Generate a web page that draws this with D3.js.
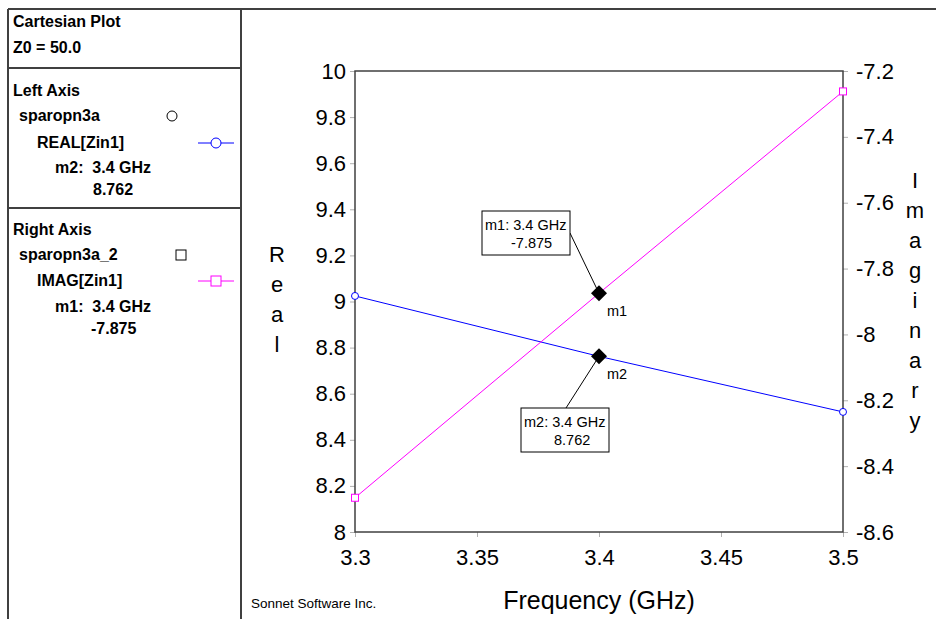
<!DOCTYPE html>
<html lang="en">
<head>
  <meta charset="UTF-8">
  <title>Cartesian Plot</title>
  <script src="https://d3js.org/d3.v7.min.js"></script>
  <style>
    body { margin: 0; background: white; }
    svg { display: block; }
    text { font-family: "Liberation Sans", Arial, sans-serif; fill: #000; }
    .legend text { font-weight: bold; font-size: 16px; }
    .tick line { stroke: #b0b0b0; }
    .frame { fill: none; stroke: #404040; stroke-width: 1.5px; }
    .border { stroke: #404040; stroke-width: 2px; }
  </style>
</head>
<body>
  <svg id="chart" width="936" height="619"></svg>
  <script>
    // data
    const freq = [3.3, 3.4, 3.5];
    const realZin = [9.024, 8.762, 8.521];
    const imagZin = [-8.496, -7.875, -7.262];
    const xTicks = [3.3, 3.35, 3.4, 3.45, 3.5];
    const leftTicks = [8, 8.2, 8.4, 8.6, 8.8, 9, 9.2, 9.4, 9.6, 9.8, 10];
    const rightTicks = [-8.6, -8.4, -8.2, -8, -7.8, -7.6, -7.4, -7.2];
    const markerNames = ["m1", "m2"];
    const markerFreq = [3.4, 3.4];
    const markerVals = [-7.875, 8.762];

    const width = 936, height = 619;
    const plot = { left: 355, right: 843, top: 71, bottom: 532 };
    const svg = d3.select("#chart");

    const x = d3.scaleLinear().domain([3.3, 3.5]).range([plot.left, plot.right]);
    const yL = d3.scaleLinear().domain([8, 10]).range([plot.bottom, plot.top]);
    const yR = d3.scaleLinear().domain([-8.6, -7.2]).range([plot.bottom, plot.top]);

    // outer borders
    svg.append("line").attr("class", "border").attr("x1", 8).attr("x2", width).attr("y1", 9).attr("y2", 9);
    svg.append("line").attr("class", "border").attr("x1", 8).attr("x2", 8).attr("y1", 9).attr("y2", height);
    svg.append("line").attr("class", "border").attr("x1", 241).attr("x2", 241).attr("y1", 9).attr("y2", height);
    svg.append("line").attr("class", "border").attr("x1", 8).attr("x2", 241).attr("y1", 68).attr("y2", 68);
    svg.append("line").attr("class", "border").attr("x1", 8).attr("x2", 241).attr("y1", 208).attr("y2", 208);

    // legend panel
    const lg = svg.append("g").attr("class", "legend");
    const legendRows = [
      ["Cartesian Plot", 13, 27], ["Z0 = 50.0", 13, 53],
      ["Left Axis", 13, 96], ["sparopn3a", 19, 121], ["REAL[Zin1]", 37, 148],
      ["m2:  3.4 GHz", 55, 173], ["8.762", 93, 195],
      ["Right Axis", 13, 235], ["sparopn3a_2", 19, 260], ["IMAG[Zin1]", 37, 286],
      ["m1:  3.4 GHz", 55, 312], ["-7.875", 91, 334]
    ];
    lg.selectAll("text").data(legendRows).join("text")
      .attr("x", d => d[1]).attr("y", d => d[2])
      .style("white-space", "pre")
      .text(d => d[0]);
    lg.append("circle").attr("cx", 172).attr("cy", 116).attr("r", 5)
      .attr("fill", "white").attr("stroke", "#000");
    lg.append("rect").attr("x", 176).attr("y", 250).attr("width", 10).attr("height", 10)
      .attr("fill", "white").attr("stroke", "#000");
    lg.append("line").attr("x1", 198).attr("x2", 234).attr("y1", 143).attr("y2", 143).attr("stroke", "#0000ff");
    lg.append("circle").attr("cx", 216).attr("cy", 143).attr("r", 5)
      .attr("fill", "white").attr("stroke", "#0000ff");
    lg.append("line").attr("x1", 198).attr("x2", 234).attr("y1", 281).attr("y2", 281).attr("stroke", "#ff00ff");
    lg.append("rect").attr("x", 211).attr("y", 276).attr("width", 10).attr("height", 10)
      .attr("fill", "white").attr("stroke", "#ff00ff");

    // axes
    const fmt = d => String(d);
    svg.append("g").attr("transform", `translate(${plot.left},0)`)
      .call(d3.axisLeft(yL).tickValues(leftTicks).tickSize(5).tickPadding(4).tickFormat(fmt))
      .call(g => g.select(".domain").remove());
    svg.append("g").attr("transform", `translate(${plot.right},0)`)
      .call(d3.axisRight(yR).tickValues(rightTicks).tickSize(5).tickPadding(8).tickFormat(fmt))
      .call(g => g.select(".domain").remove());
    svg.append("g").attr("transform", `translate(0,${plot.bottom})`)
      .call(d3.axisBottom(x).tickValues(xTicks).tickSize(5).tickPadding(12).tickFormat(fmt))
      .call(g => g.select(".domain").remove());
    svg.selectAll(".tick text")
      .attr("font-family", "Liberation Sans, Arial, sans-serif")
      .attr("font-size", 22).attr("fill", "#000");

    svg.append("rect").attr("class", "frame")
      .attr("x", plot.left).attr("y", plot.top)
      .attr("width", plot.right - plot.left).attr("height", plot.bottom - plot.top);

    // traces
    const realPts = freq.map((f, i) => [f, realZin[i]]);
    const imagPts = freq.map((f, i) => [f, imagZin[i]]);
    svg.append("path").datum(realPts)
      .attr("d", d3.line().x(d => x(d[0])).y(d => yL(d[1])))
      .attr("fill", "none").attr("stroke", "#0000ff");
    svg.append("path").datum(imagPts)
      .attr("d", d3.line().x(d => x(d[0])).y(d => yR(d[1])))
      .attr("fill", "none").attr("stroke", "#ff00ff");
    const ends = [0, freq.length - 1];
    svg.selectAll(".realSym").data(ends.map(i => realPts[i])).join("circle")
      .attr("cx", d => x(d[0])).attr("cy", d => yL(d[1])).attr("r", 3.5)
      .attr("fill", "white").attr("stroke", "#0000ff");
    svg.selectAll(".imagSym").data(ends.map(i => imagPts[i])).join("rect")
      .attr("x", d => x(d[0]) - 3.5).attr("y", d => yR(d[1]) - 3.5)
      .attr("width", 7).attr("height", 7)
      .attr("fill", "white").attr("stroke", "#ff00ff");

    // axis titles
    svg.append("text").attr("x", 599).attr("y", 609).attr("text-anchor", "middle")
      .attr("font-size", 25).text("Frequency (GHz)");
    svg.append("g").selectAll("text").data("Real".split("")).join("text")
      .attr("x", 277).attr("y", (d, i) => 262 + i * 30).attr("text-anchor", "middle")
      .attr("font-size", 22).text(d => d);
    svg.append("g").selectAll("text").data("Imaginary".split("")).join("text")
      .attr("x", 915).attr("y", (d, i) => 188 + i * 30).attr("text-anchor", "middle")
      .attr("font-size", 22).text(d => d);

    svg.append("text").attr("x", 251).attr("y", 608).attr("font-size", 13.5)
      .attr("fill", "#333").text("Sonnet Software Inc.");

    // markers with callouts
    const markerScale = [yR, yL];
    const boxes = [
      { x: 482, y: 211, w: 88, h: 44, lx: 570, ly: 233, ox: 29 },
      { x: 521, y: 408, w: 88, h: 44, lx: 566, ly: 408, ox: 33 }
    ];
    markerNames.forEach((name, i) => {
      const mx = x(markerFreq[i]), my = markerScale[i](markerVals[i]);
      const b = boxes[i];
      svg.append("line").attr("x1", b.lx).attr("y1", b.ly).attr("x2", mx).attr("y2", my)
        .attr("stroke", "#000");
      svg.append("rect").attr("x", b.x).attr("y", b.y).attr("width", b.w).attr("height", b.h)
        .attr("fill", "white").attr("stroke", "#000");
      svg.append("text").attr("x", b.x + 3).attr("y", b.y + 19).attr("font-size", 14.5)
        .text(`${name}: ${markerFreq[i]} GHz`);
      svg.append("text").attr("x", b.x + b.ox).attr("y", b.y + 37).attr("font-size", 14.5)
        .text(markerVals[i]);
      svg.append("path").attr("d", `M${mx},${my - 8}L${mx + 8},${my}L${mx},${my + 8}L${mx - 8},${my}Z`)
        .attr("fill", "#000");
      svg.append("text").attr("x", mx + 8).attr("y", my + 23).attr("font-size", 14.5).text(name);
    });
  </script>
</body>
</html>
